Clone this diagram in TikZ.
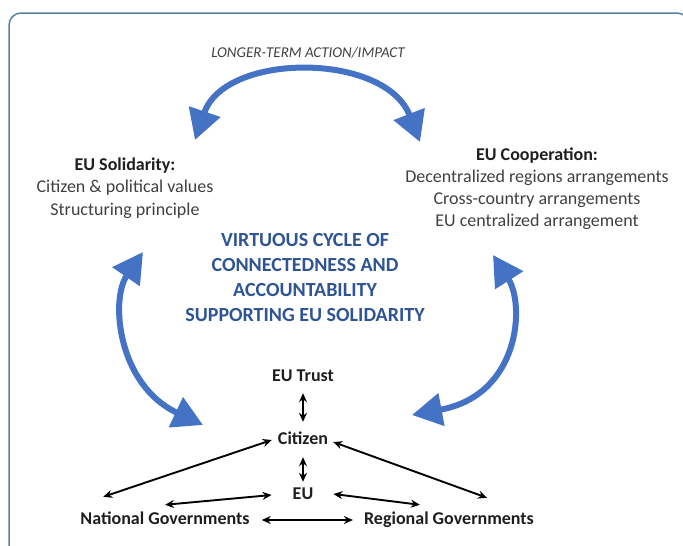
\documentclass[tikz,border=0pt]{standalone}
\usepackage{fontspec}
\setmainfont{Carlito}
\usetikzlibrary{arrows.meta, positioning}
\definecolor{cyclebl}{RGB}{68,114,196}
\definecolor{titlebl}{RGB}{47,84,150}
\definecolor{framebl}{RGB}{84,130,166}
\definecolor{txtgray}{RGB}{64,64,64}
\definecolor{headgray}{RGB}{30,30,30}

\begin{document}
\begin{tikzpicture}[x=1pt, y=-1pt,
    lbl/.style={font=\fontsize{18}{22.5}\selectfont\bfseries, text=headgray, inner sep=0pt, text height=12pt, text depth=4pt},
    link/.style={{Stealth[length=9pt,width=8pt]}-{Stealth[length=9pt,width=8pt]}, line width=1.9pt},
    cyc/.style={{Triangle[length=30pt,width=32pt]}-{Triangle[length=30pt,width=32pt]}, cyclebl, line width=6pt}]
    \useasboundingbox (0,0) rectangle (683,546);
    \clip (0,0) rectangle (683,546);
    \draw[framebl, line width=1.5pt, rounded corners=12pt] (9,13) rectangle (689,600);

    % outer texts
    \node (longer) at (308,53) [font=\fontsize{15}{18}\selectfont\itshape, text=txtgray] {LONGER-TERM ACTION/IMPACT};
    \node (solid) at (125,188) [align=center, font=\fontsize{18}{22.5}\selectfont, text=txtgray] {\textcolor{headgray}{\textbf{EU Solidarity:}} \\ Citizen \& political values \\ Structuring principle};
    \node (coop) at (537,189) [align=center, font=\fontsize{18}{22}\selectfont, text=txtgray] {\textcolor{headgray}{\textbf{EU Cooperation:}} \\ Decentralized regions arrangements \\ Cross-country arrangements \\ EU centralized arrangement};
    \node (cycle) at (305,278) [align=center, font=\fontsize{20}{25}\selectfont\bfseries, text=titlebl] {VIRTUOUS CYCLE OF \\ CONNECTEDNESS AND \\ ACCOUNTABILITY \\ SUPPORTING EU SOLIDARITY};

    % actors
    \node (trust) at (303,377) [lbl] {EU Trust};
    \node (citizen) [lbl, on grid, below=63pt of trust] {Citizen};
    \node (eu) [lbl, on grid, below=55pt of citizen] {EU};
    \node (nat) at (165,520) [lbl] {National Governments};
    \node (reg) [lbl, on grid, right=284pt of nat] {Regional Governments};

    % the cycle
    \coordinate (topL) at (195,140);
    \coordinate (topR) at (420,142);
    \coordinate (leftT) at (143,252);
    \coordinate (leftB) at (203,425);
    \coordinate (rightT) at (493,255);
    \coordinate (rightB) at (412,415);
    \draw[cyc] (topL) .. controls (225,52) and (385,52) .. (topR);
    \draw[cyc] (leftT) .. controls (110,300) and (118,385) .. (leftB);
    \draw[cyc] (rightT) .. controls (525,305) and (520,395) .. (rightB);

    % links between actors
    \draw[link] ([yshift=-8pt]trust.south) -- ([yshift=10pt]citizen.north);
    \draw[link] ([yshift=-9pt]citizen.south) -- ([yshift=5pt]eu.north);
    \draw[link] ([xshift=-6pt]citizen.west) -- ([xshift=23pt, yshift=15pt]nat.north west);
    \draw[link] ([xshift=5pt, yshift=-2pt]citizen.east) -- ([xshift=-47pt, yshift=14pt]reg.north east);
    \draw[link] ([xshift=-21pt]eu.west) -- ([yshift=7pt]nat.north);
    \draw[link] ([xshift=20pt, yshift=1pt]eu.east) -- ([xshift=56pt, yshift=7pt]reg.north west);
    \draw[link] ([xshift=12pt]nat.east) -- ([xshift=-11pt]reg.west);
\end{tikzpicture}
\end{document}
